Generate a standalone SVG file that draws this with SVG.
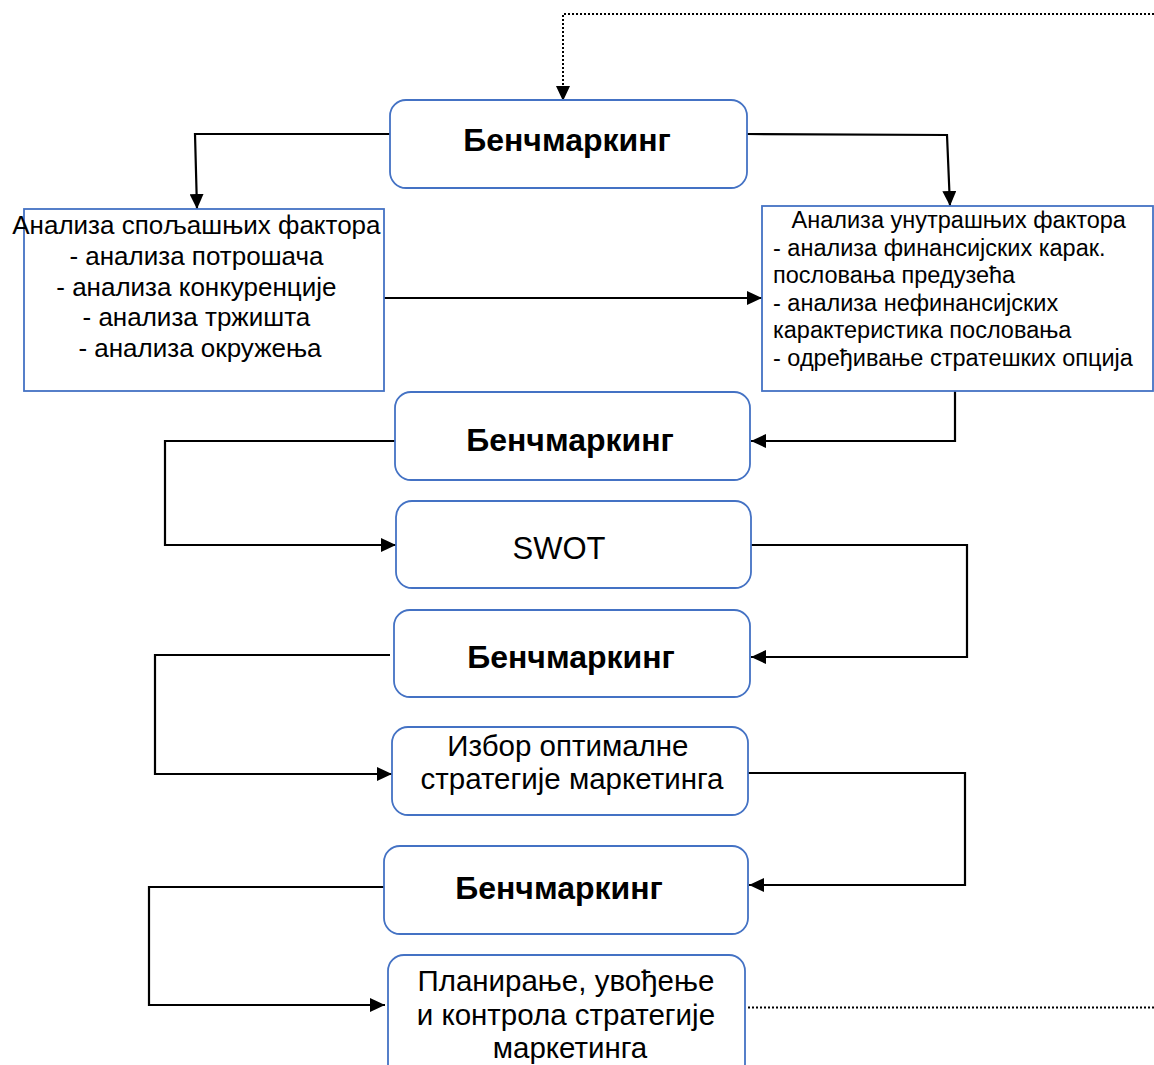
<svg xmlns="http://www.w3.org/2000/svg" width="1154" height="1065" viewBox="0 0 1154 1065">
<style>
.box{fill:#fff;stroke:#4472C4;stroke-width:1.8}
.ln{fill:none;stroke:#000;stroke-width:2.2}
.dot{fill:none;stroke:#000;stroke-width:2;stroke-dasharray:2 2}
.t{font-family:"Liberation Sans",Arial,sans-serif;fill:#000}
.b{font-weight:bold;font-size:32px}
.r{font-size:29.5px}
</style>
<defs>
<marker id="ah" viewBox="0 0 10 10" refX="10" refY="5" markerWidth="15" markerHeight="14" markerUnits="userSpaceOnUse" orient="auto" preserveAspectRatio="none">
<path d="M0,0 L10,5 L0,10 z" fill="#000"/>
</marker>
</defs>
<rect width="1154" height="1065" fill="#fff"/>
<g id="connectors">
<path class="dot" d="M1154,14 L563,14 L563,101" marker-end="url(#ah)"/>
<path class="ln" d="M390,134 L195,134 L197,209" marker-end="url(#ah)"/>
<path class="ln" d="M747,134 L947,135 L950,206" marker-end="url(#ah)"/>
<path class="ln" d="M384,298 L762,298" marker-end="url(#ah)"/>
<path class="ln" d="M955,391 L955,441 L751,441" marker-end="url(#ah)"/>
<path class="ln" d="M395,441 L165,441 L165,545 L396,545" marker-end="url(#ah)"/>
<path class="ln" d="M751,545 L967,545 L967,657 L751,657" marker-end="url(#ah)"/>
<path class="ln" d="M390,655 L155,655 L155,774 L392,774" marker-end="url(#ah)"/>
<path class="ln" d="M748,773 L965,773 L965,885 L749,885" marker-end="url(#ah)"/>
<path class="ln" d="M384,887 L149,887 L149,1005 L385,1005" marker-end="url(#ah)"/>
<path class="dot" d="M748,1007.5 L1154,1007.5"/>
</g>
<g id="bench1">
<rect class="box" x="390" y="100" width="357" height="88" rx="16"/>
<text class="t b" x="567" y="151" text-anchor="middle">Бенчмаркинг</text>
</g>
<g id="external">
<rect class="box" x="24" y="209" width="360" height="182"/>
<text class="t" font-size="26" text-anchor="middle">
<tspan x="200" y="234">Анализа спољашњих фактора</tspan>
<tspan x="200" y="265">- анализа потрошача</tspan>
<tspan x="200" y="296">- анализа конкуренције</tspan>
<tspan x="200" y="326">- анализа тржишта</tspan>
<tspan x="200" y="357">- анализа окружења</tspan>
</text>
</g>
<g id="internal">
<rect class="box" x="762" y="206" width="391" height="185"/>
<text class="t" font-size="23.5">
<tspan x="962" y="228" text-anchor="middle">Анализа унутрашњих фактора</tspan>
<tspan x="773" y="256">- анализа финансијских карак.</tspan>
<tspan x="773" y="283">пословања предузећа</tspan>
<tspan x="773" y="311">- анализа нефинансијских</tspan>
<tspan x="773" y="338">карактеристика пословања</tspan>
<tspan x="773" y="366">- одређивање стратешких опција</tspan>
</text>
</g>
<g id="bench2">
<rect class="box" x="395" y="392" width="355" height="88" rx="16"/>
<text class="t b" x="570" y="451" text-anchor="middle">Бенчмаркинг</text>
</g>
<g id="swot">
<rect class="box" x="396" y="501" width="355" height="87" rx="16"/>
<text class="t" font-size="31" x="559" y="559" text-anchor="middle">SWOT</text>
</g>
<g id="bench3">
<rect class="box" x="394" y="610" width="356" height="87" rx="16"/>
<text class="t b" x="571" y="668" text-anchor="middle">Бенчмаркинг</text>
</g>
<g id="choice">
<rect class="box" x="392" y="727" width="356" height="88" rx="16"/>
<text class="t r" text-anchor="middle">
<tspan x="572" y="756">Избор оптималне</tspan>
<tspan x="572" y="789">стратегије маркетинга</tspan>
</text>
</g>
<g id="bench4">
<rect class="box" x="384" y="846" width="364" height="88" rx="16"/>
<text class="t b" x="559" y="899" text-anchor="middle">Бенчмаркинг</text>
</g>
<g id="planning">
<rect class="box" x="388" y="955" width="357" height="125" rx="16"/>
<text class="t r" text-anchor="middle">
<tspan x="570" y="991">Планирање, увођење</tspan>
<tspan x="570" y="1025">и контрола стратегије</tspan>
<tspan x="570" y="1058">маркетинга</tspan>
</text>
</g>
</svg>
